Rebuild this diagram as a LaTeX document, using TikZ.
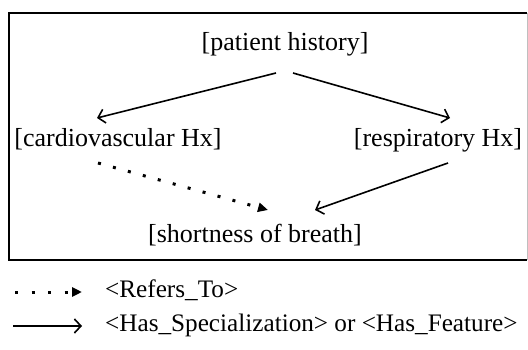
\documentclass[tikz,border=0pt]{standalone}
\usepackage{fontspec}
\setmainfont{Liberation Serif}
\usetikzlibrary{arrows.meta,calc}
\tikzset{
  lbl/.style={inner sep=0pt, anchor=base, font=\fontsize{26}{31}\selectfont},
  legtext/.style={inner sep=0pt, anchor=base west, font=\fontsize{25.2}{30}\selectfont},
  spec/.style={line width=1.6pt, -{Straight Barb[length=6.5pt,width=14pt,line width=1.6pt]}},
  refers/.style={line width=3pt, dash pattern=on 3pt off 12.5pt, -{Triangle[length=10pt,width=9pt]}},
  frame/.style={line width=1.4pt}
}
\begin{document}
\begin{tikzpicture}[x=1pt,y=-1pt]
\useasboundingbox (0,0) rectangle (528,350);
\fill[white] (0,0) rectangle (528,350);
\draw[frame] (527,13) -- (9,13) -- (9,260) -- (527,260);
\draw[line width=0.4pt, black!25] (527,13) -- (527,260);
\node[lbl] (ph) at (285,51) {[patient history]};
\node[lbl] (cv) at (118,147) {[cardiovascular Hx]};
\node[lbl] (rh) at (438,147) {[respiratory Hx]};
\node[lbl] (sob) at (255,243) {[shortness of breath]};
\draw[spec] ($(ph.base)+(-9,22)$) -- ($(cv.base)+(-21,-29)$);
\draw[spec] ($(ph.base)+(8,22)$) -- ($(rh.base)+(12,-29)$);
\draw[refers] ($(cv.base)+(-20,16)$) -- ($(sob.base)+(13,-33)$);
\draw[spec] ($(rh.base)+(10,16)$) -- ($(sob.base)+(60,-33)$);
\node[legtext] (rt) at (105,298) {<Refers\_To>};
\node[legtext] (hs) at (105,331) {<Has\_Specialization> or <Has\_Feature>};
\draw[refers, dash pattern=on 3pt off 13.5pt] ($(rt.base west)+(-90,-6)$) -- ($(rt.base west)+(-23,-6)$);
\draw[spec] ($(hs.base west)+(-92,-5)$) -- ($(hs.base west)+(-23,-5)$);
\end{tikzpicture}
\end{document}
